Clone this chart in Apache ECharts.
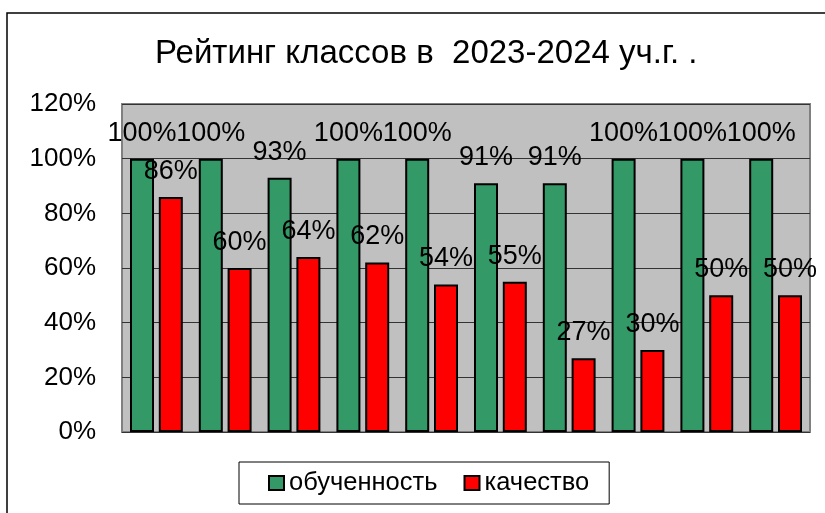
<!DOCTYPE html>
<html>
<head>
<meta charset="utf-8">
<script src="https://cdn.jsdelivr.net/npm/echarts@6/dist/echarts.min.js"></script>
<style>
  html, body { margin: 0; padding: 0; background: #fff; }
  #mychart { width: 825px; height: 513px; }
</style>
</head>
<body>
<div id="mychart"></div>
<script>
// классы (подписи на оси не показаны)
var classes = ["1", "2", "3", "4", "5", "6", "7", "8", "9", "10"];
var obuchennost = [100, 100, 93, 100, 100, 91, 91, 100, 100, 100]; // обученность, %
var kachestvo = [86, 60, 64, 62, 54, 55, 27, 30, 50, 50]; // качество, %
var yTicks = [0, 20, 40, 60, 80, 100, 120];

var font = "Liberation Sans, Arial, sans-serif";

var labelStyle = {
  show: true,
  position: "top",
  distance: 12,
  formatter: "{c}%",
  color: "#000",
  fontSize: 27,
  fontFamily: font
};

var option = {
  animation: false,
  backgroundColor: "#fff",
  title: {
    text: "Рейтинг классов в  2023-2024 уч.г. .",
    left: 150,
    top: 32,
    textStyle: { fontSize: 33, fontWeight: "normal", color: "#000", fontFamily: font }
  },
  graphic: [
    {
      type: "rect",
      shape: { x: 7, y: 13, width: 840, height: 540 },
      style: { fill: "none", stroke: "#000", lineWidth: 1.5 },
      silent: true
    }
  ],
  grid: {
    left: 122,
    right: 15,
    top: 104,
    bottom: 81,
    show: true,
    backgroundColor: "#c0c0c0",
    borderColor: "#808080",
    borderWidth: 2
  },
  legend: {
    left: 239,
    top: 462,
    padding: [8, 20, 8, 29],
    borderColor: "#000",
    borderWidth: 1,
    itemWidth: 15,
    itemHeight: 14,
    itemGap: 26,
    icon: "rect",
    textStyle: { fontSize: 25.5, color: "#000", fontFamily: font },
    data: ["обученность", "качество"]
  },
  xAxis: {
    type: "category",
    data: classes,
    axisLine: { show: false },
    axisTick: { show: false },
    axisLabel: { show: false }
  },
  yAxis: {
    type: "value",
    min: yTicks[0],
    max: yTicks[yTicks.length - 1],
    interval: 20,
    axisLine: { show: false },
    axisTick: { show: false },
    axisLabel: {
      formatter: "{value}%",
      fontSize: 26,
      color: "#000",
      fontFamily: font,
      margin: 26
    },
    splitLine: { lineStyle: { color: "#333", width: 1 } }
  },
  series: [
    {
      name: "обученность",
      type: "bar",
      data: obuchennost,
      barWidth: 24,
      barGap: "20%",
      itemStyle: { color: "#339966", borderColor: "#000", borderWidth: 2 },
      label: labelStyle
    },
    {
      name: "качество",
      type: "bar",
      data: kachestvo,
      barWidth: 24,
      itemStyle: { color: "#ff0000", borderColor: "#000", borderWidth: 2 },
      label: labelStyle
    }
  ]
};

var myChart = echarts.init(document.getElementById("mychart"));
myChart.setOption(option);
</script>
</body>
</html>
